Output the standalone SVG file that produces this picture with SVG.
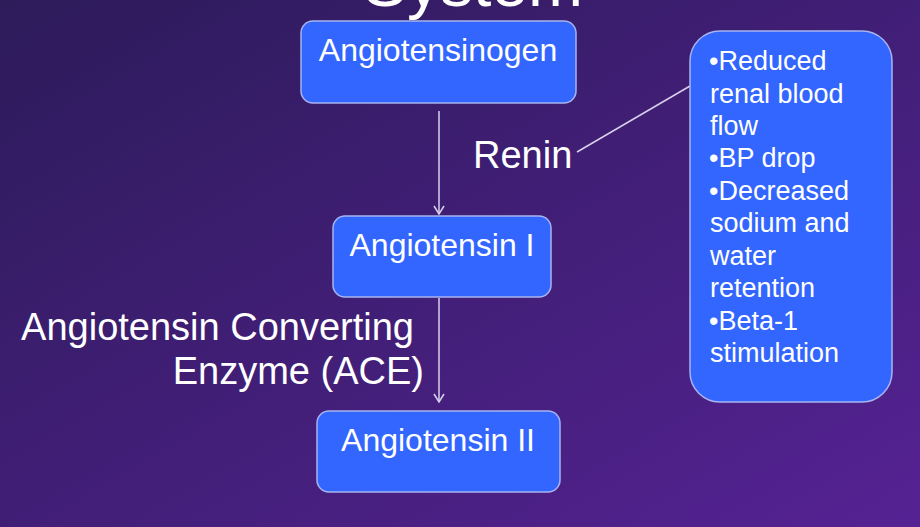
<svg xmlns="http://www.w3.org/2000/svg" width="920" height="527" viewBox="0 0 920 527">
<defs>
<linearGradient id="bg" x1="0" y1="0" x2="1" y2="1">
<stop offset="0" stop-color="#2d1b5a"/><stop offset="1" stop-color="#552293"/>
</linearGradient>
<marker id="ah" markerWidth="10" markerHeight="12" refX="9" refY="6" orient="auto" markerUnits="userSpaceOnUse" viewBox="0 0 10 12">
<path d="M1,1 L9,6 L1,11" fill="none" stroke="#d8d0ee" stroke-width="1.5"/>
</marker>
<style>
.box{fill:#3366ff;stroke:#a8b4f0;stroke-width:1.5}
text{font-family:"Liberation Sans",Arial,sans-serif;fill:#fff}
.n{font-size:32px;text-anchor:middle}
.l{font-size:38px}
.b{font-size:27px}
.c{stroke:#d8d0ee;stroke-width:1.5;fill:none}
</style>
</defs>
<rect width="920" height="527" fill="url(#bg)"/>
<text x="473" y="6" font-size="66" text-anchor="middle">System</text>
<g id="connectors">
<line class="c" x1="439" y1="111" x2="439" y2="214" marker-end="url(#ah)"/>
<line class="c" x1="439" y1="298" x2="439" y2="402" marker-end="url(#ah)"/>
<line class="c" x1="577" y1="152" x2="690" y2="86"/>
</g>
<g id="angiotensinogen"><rect class="box" x="301" y="21" width="275" height="82" rx="12"/><text class="n" x="438" y="61">Angiotensinogen</text></g>
<g id="angiotensin1"><rect class="box" x="333" y="216" width="218" height="81" rx="12"/><text class="n" x="442" y="256">Angiotensin I</text></g>
<g id="angiotensin2"><rect class="box" x="317" y="411" width="243" height="81" rx="12"/><text class="n" x="438" y="451">Angiotensin II</text></g>
<g id="renin"><text class="l" x="473" y="168">Renin</text></g>
<g id="ace"><text class="l" x="414" y="340" text-anchor="end">Angiotensin Converting</text><text class="l" x="424" y="384" text-anchor="end">Enzyme (ACE)</text></g>
<g id="causes"><rect class="box" x="690" y="31" width="202" height="371" rx="30"/>
<text class="b">
<tspan x="709" y="70">•Reduced</tspan><tspan x="710" y="103">renal blood</tspan><tspan x="710" y="135">flow</tspan><tspan x="709" y="167">•BP drop</tspan><tspan x="709" y="200">•Decreased</tspan><tspan x="710" y="232">sodium and</tspan><tspan x="710" y="265">water</tspan><tspan x="710" y="297">retention</tspan><tspan x="709" y="330">•Beta-1</tspan><tspan x="710" y="362">stimulation</tspan>
</text></g>
</svg>
